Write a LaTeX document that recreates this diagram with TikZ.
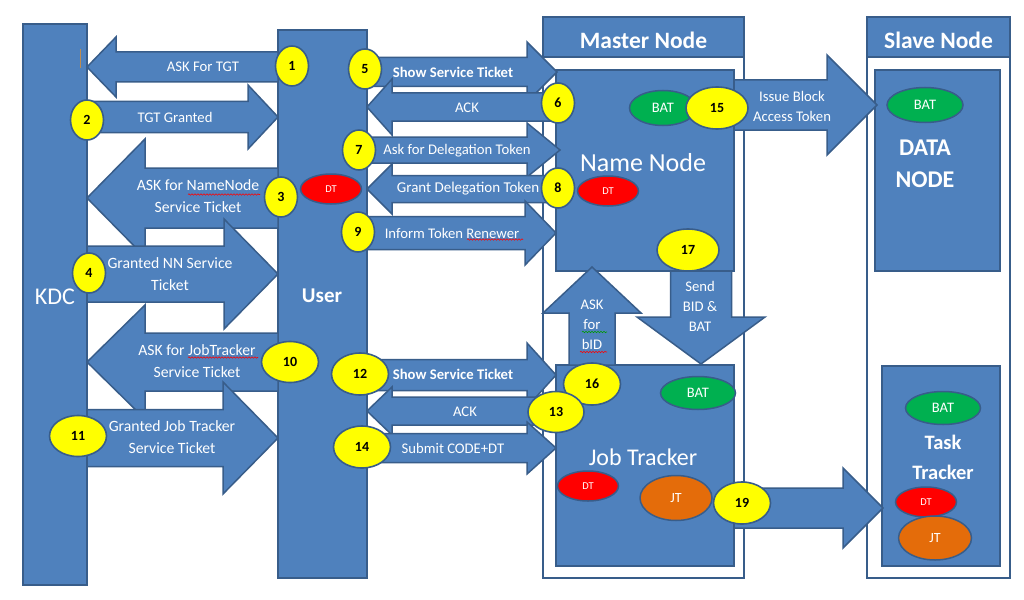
\documentclass[tikz,border=0pt]{standalone}
\usepackage{fontspec}
\setmainfont{Carlito}
\usetikzlibrary{shapes.geometric,decorations.pathmorphing}
\definecolor{bfill}{RGB}{79,129,189}
\definecolor{bline}{RGB}{56,93,138}
\definecolor{yel}{RGB}{255,255,0}
\definecolor{grn}{RGB}{0,176,80}
\definecolor{org}{RGB}{228,108,10}
\definecolor{curmark}{RGB}{190,140,80}
\newcommand\blkH[6]{\draw[blk] ({#1},{#3-#4}) -- ({#5},{#3-#4}) -- ({#5},{#3-#6}) -- ({#2},{#3}) -- ({#5},{#3+#6}) -- ({#5},{#3+#4}) -- ({#1},{#3+#4}) -- cycle;}
\newcommand\blkV[6]{\draw[blk] ({#1-#4},{#2}) -- ({#1-#4},{#5}) -- ({#1-#6},{#5}) -- ({#1},{#3}) -- ({#1+#6},{#5}) -- ({#1+#4},{#5}) -- ({#1+#4},{#2}) -- cycle;}
\newcommand\fs[2]{\fontsize{#1}{#2}\selectfont}
\tikzset{
  blk/.style={fill=bfill, draw=bline, line width=1.5pt, line join=miter},
  box/.style={blk, rectangle, inner sep=0pt},
  frame/.style={fill=white, draw=bline, line width=1.8pt, rectangle, inner sep=0pt},
  lbl/.style={text=white, align=center, inner sep=0pt, font=\fs{14.7}{20}},
  lbl2/.style={lbl, font=\fs{15.7}{22}},
  num/.style={ellipse, fill=yel, draw=bline, line width=1.6pt, inner sep=0pt, text=black, font=\bfseries\fs{14}{14}},
  one/.style={num, minimum width=33pt, minimum height=40pt},
  two/.style={num, minimum width=57pt, minimum height=42pt},
  tok/.style={ellipse, draw=bline, line width=1.5pt, inner sep=0pt, text=white},
  bat/.style={tok, fill=grn, font=\fs{14.5}{14.5}},
  dt/.style={tok, fill=red, font=\fs{10.5}{10.5}, minimum width=61pt, minimum height=30pt},
  jt/.style={tok, fill=org, font=\fs{14}{14}, minimum width=72pt, minimum height=45pt},
  squig/.style={draw=red, line width=0.6pt, decorate, decoration={snake, amplitude=0.7pt, segment length=3pt}},
}
\begin{document}
\begin{tikzpicture}[x=1pt,y=-1pt]
\fill[white] (0,0) rectangle (1024,599);
\useasboundingbox (0,0) rectangle (1024,599);

% frames
\node[frame, minimum width=201pt, minimum height=561pt] (mframe) at (643.5,297.5) {};
\node[box, minimum width=201pt, minimum height=40pt] (mhead) at (643.5,37) {};
\node[frame, minimum width=143pt, minimum height=561pt] (sframe) at (938.5,297.5) {};
\node[box, minimum width=143pt, minimum height=40pt] (shead) at (938.5,37) {};

% boxes
\node[box, minimum width=64pt, minimum height=561pt] (kdc) at (55,304.5) {};
\node[box, minimum width=89pt, minimum height=548pt] (user) at (322.5,304) {};
\node[box, minimum width=178pt, minimum height=201pt] (nn) at (645,170.5) {};
\node[box, minimum width=178pt, minimum height=201pt] (jt) at (645,465.5) {};
\node[box, minimum width=125pt, minimum height=201pt] (dn) at (937.5,170.5) {};
\node[box, minimum width=118pt, minimum height=200pt] (tt) at (941,466) {};

% block arrows  (tail, tip, ycenter, shaft half, head base, head half)
\blkH{278}{87}{67}{15}{116}{30}
\blkH{87}{278}{117}{15.5}{248}{32}
\blkH{278}{87}{198}{30}{145}{59}
\blkH{87}{278}{274}{28}{224}{55}
\blkH{278}{87}{362}{29}{145}{57}
\blkH{87}{278}{438}{28.5}{223}{56}
\blkH{367}{557}{72}{14.5}{527}{30}
\blkH{556}{367}{107}{14}{392}{28}
\blkH{367}{560}{150}{13}{527}{27}
\blkH{556}{367}{189}{13.5}{392}{25}
\blkH{367}{556}{233}{16.5}{525}{32}
\blkH{367}{556}{375}{15.5}{527}{32}
\blkH{556}{367}{411}{14}{392}{24}
\blkH{367}{556}{448}{14.5}{527}{26}
\blkH{734}{877}{105}{25}{827}{50}
\blkH{734}{883}{508}{20}{843}{40}
\blkV{592}{365}{267}{23}{313}{49}
\blkV{701}{271}{364}{30.5}{317}{64}

% box labels
\node[text=white, font=\fs{24}{24}] (tkdc) at (55,297) {KDC};
\node[text=white, font=\bfseries\fs{21}{21}] (tuser) at (322,296) {User};
\node[text=white, font=\bfseries\fs{23.5}{23.5}] (tmaster) at (643.5,40) {Master Node};
\node[text=white, font=\bfseries\fs{23.5}{23.5}] (tslave) at (938.5,40) {Slave Node};
\node[text=white, font=\fs{26}{26}] (tnn) at (643,163) {Name Node};
\node[text=white, font=\fs{24}{24}] (tjt) at (643,457) {Job Tracker};
\node[text=white, align=center, font=\bfseries\fs{24}{32}] (tdn) at (925,164) {DATA\\NODE};
\node[text=white, align=center, font=\bfseries\fs{20.5}{30}] (ttt) at (943,457) {Task\\Tracker};

% arrow labels
\node[lbl] (l1) at (203,67) {ASK For TGT};
\node[lbl] (l2) at (175,117) {TGT Granted};
\node[lbl2] (l3) at (198,196) {ASK for NameNode\\Service Ticket};
\node[lbl2] (l4) at (170,274) {Granted NN Service\\Ticket};
\node[lbl2] (l10) at (197,361) {ASK for JobTracker\\Service Ticket};
\node[lbl2] (l11) at (172,437.5) {Granted Job Tracker\\Service Ticket};
\node[lbl, font=\bfseries\fs{14.7}{20}] (l5) at (453,72) {Show Service Ticket};
\node[lbl] (l6) at (467,108) {ACK};
\node[lbl] (l7) at (457,151) {Ask for Delegation Token};
\node[lbl, font=\fs{15}{20}] (l8) at (468,189) {Grant Delegation Token};
\node[lbl] (l9) at (452,233) {Inform Token Renewer};
\node[lbl, font=\bfseries\fs{14.7}{20}] (l12) at (453,374) {Show Service Ticket};
\node[lbl] (l13) at (465,412) {ACK};
\node[lbl] (l14) at (453,448) {Submit CODE+DT};
\node[lbl] (l15) at (792,106) {Issue Block\\Access Token};
\node[lbl] (l16) at (592,325) {ASK\\for\\bID};
\node[lbl] (l17) at (700,306) {Send\\BID \&\\BAT};

% spell-check marks
\draw[squig] (188,194.5) -- (260,194.5);
\draw[squig] (188,357.5) -- (258,357.5);
\draw[squig] (467,239.5) -- (523,239.5);
\draw[squig, draw=green!60!black] (582,332) -- (607,332);
\draw[squig] (580,352) -- (607,352);
\draw[draw=curmark, line width=1pt] (80.5,49) -- (80.5,68);

% tokens
\node[dt] (dtu) at (331,189) {DT};
\node[dt] (dtn) at (608,191) {DT};
\node[bat, minimum width=67pt, minimum height=35pt] (batn) at (663,108) {BAT};
\node[bat, minimum width=75pt, minimum height=33pt] (batj) at (698,393) {BAT};
\node[dt] (dtj) at (588,486) {DT};
\node[jt] (jtj) at (676,498) {JT};
\node[bat, minimum width=76pt, minimum height=35pt] (batd) at (925,105) {BAT};
\node[bat, minimum width=75pt, minimum height=33pt] (batt) at (943,408) {BAT};
\node[dt] (dtt) at (926,502) {DT};
\node[jt, minimum width=73pt, minimum height=44pt] (jtt) at (935,538) {JT};

% step numbers
\node[one] (n1) at (292,66) {1};
\node[one] (n2) at (87,120) {2};
\node[one] (n3) at (281,197) {3};
\node[one] (n4) at (89,273) {4};
\node[one] (n5) at (365,69) {5};
\node[one] (n6) at (558,103) {6};
\node[one] (n7) at (359,150) {7};
\node[one] (n8) at (558,188) {8};
\node[one] (n9) at (358,232) {9};
\node[two, minimum height=41pt] (n10) at (290,362) {10};
\node[two, minimum height=41pt] (n11) at (78,436) {11};
\node[two] (n12) at (360,374) {12};
\node[two] (n16) at (592,384) {16};
\node[two, minimum width=56pt, minimum height=41pt] (n13) at (556,412) {13};
\node[two] (n14) at (362,447) {14};
\node[two, minimum width=62pt] (n15) at (717,108) {15};
\node[two, minimum width=62pt] (n17) at (688,250) {17};
\node[two] (n19) at (742,503) {19};
\end{tikzpicture}
\end{document}
